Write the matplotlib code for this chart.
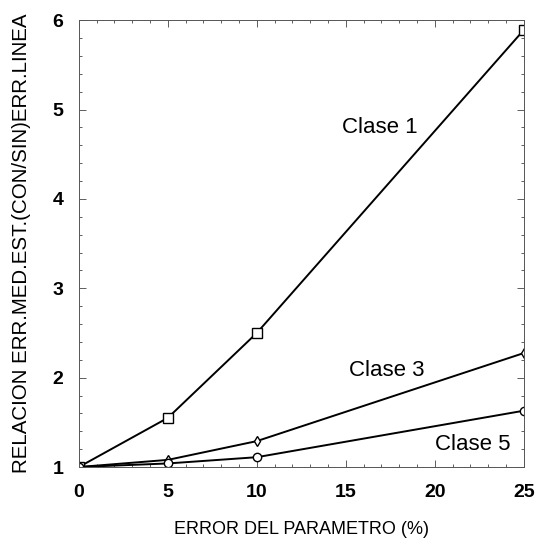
import matplotlib.pyplot as plt
from matplotlib.ticker import MultipleLocator

plt.rcParams['font.family'] = ['Liberation Sans', 'DejaVu Sans']

# Error del parametro (%) and ratio per class
error_pct = [0, 5, 10, 25]
clase1 = [1.0, 1.55, 2.5, 5.89]
clase3 = [1.0, 1.08, 1.29, 2.275]
clase5 = [1.0, 1.04, 1.11, 1.63]

fig = plt.figure(figsize=(5.4, 5.44), dpi=100)
ax = fig.add_axes([0.146, 0.1415, 0.824, 0.8215])

ax.plot(error_pct, clase1, color='black', lw=1.4, marker='s', ms=7,
        mfc='white', mec='black', mew=1.0)
ax.plot(error_pct, clase3, color='black', lw=1.4, marker='d', ms=5,
        mfc='white', mec='black', mew=1.0)
ax.plot(error_pct, clase5, color='black', lw=1.4, marker='o', ms=6,
        mfc='white', mec='black', mew=1.0)

ax.text(14.8, 4.80, 'Clase 1', fontsize=16, ha='left', va='center')
ax.text(15.2, 2.085, 'Clase 3', fontsize=16, ha='left', va='center')
ax.text(20.0, 1.25, 'Clase 5', fontsize=16, ha='left', va='center')

ax.set_xlim(0, 25)
ax.set_ylim(1, 6)
ax.set_xticks([0, 5, 10, 15, 20, 25])
ax.set_yticks([1, 2, 3, 4, 5, 6])
ax.xaxis.set_minor_locator(MultipleLocator(1))
ax.yaxis.set_minor_locator(MultipleLocator(0.2))
ax.tick_params(which='both', direction='in', top=True, right=True,
               color='#444444', width=0.6)
ax.tick_params(which='major', length=5, labelsize=14)
ax.tick_params(axis='x', which='major', pad=12)
ax.tick_params(axis='y', which='major', pad=11)
ax.tick_params(which='minor', length=2.5)
for lab in ax.get_xticklabels() + ax.get_yticklabels():
    lab.set_fontweight('bold')

for s in ax.spines.values():
    s.set_linewidth(0.7)
    s.set_color('#555555')
    s.set_linestyle((0, (4, 1)))

ax.set_xlabel('ERROR DEL PARAMETRO (%)', fontsize=13)
ax.set_ylabel('RELACION ERR.MED.EST.(CON/SIN)ERR.LINEA', fontsize=14.8)
ax.xaxis.set_label_coords(0.5, -0.121)
ax.yaxis.set_label_coords(-0.108, 0.5)

fig.savefig('out.png', dpi=100)
